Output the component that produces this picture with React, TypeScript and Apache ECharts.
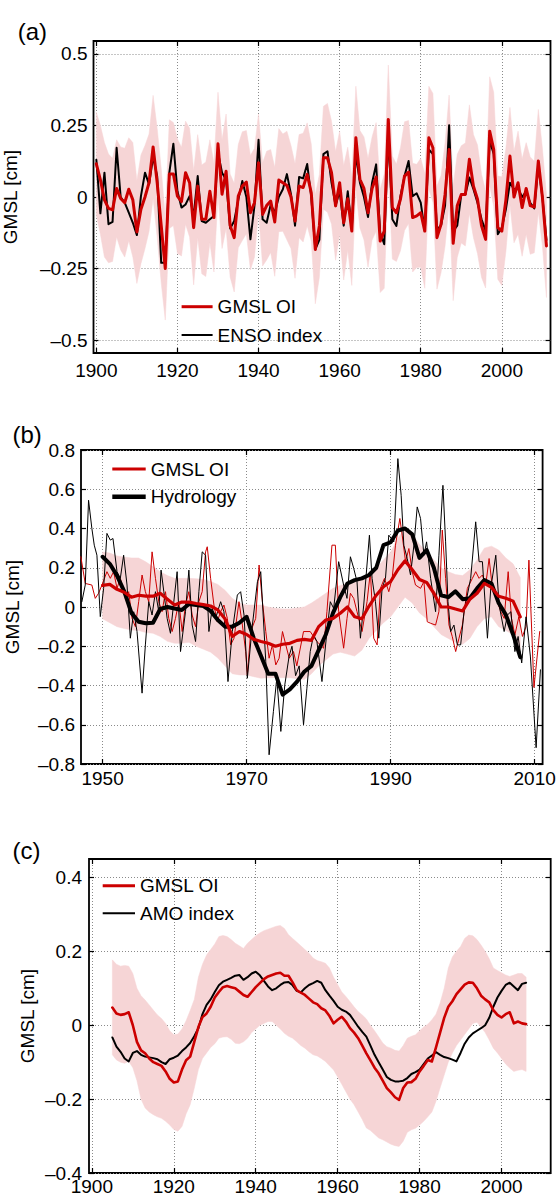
import React, { useEffect, useRef } from 'react';
import * as echarts from 'echarts';

const FONT = "'Liberation Sans', Arial, Helvetica, sans-serif";
const RED = '#cc0000';
const PINK = '#f6d5d6';
const GRID_COLOR = '#8a8a8a';

// ---------------- Panel (a): GMSL OI vs ENSO index (annual) ----------------
const yearsA: number[] = [];
for (let y = 1900; y <= 2011; y++) yearsA.push(y);

const gmslA = [
  0.116, 0.06, -0.01, -0.04, -0.045, 0.03, -0.005, -0.02, 0.027, -0.01,
  -0.122, -0.043, 0.0, 0.05, 0.175, 0.05, -0.1, -0.25, 0.08, 0.08,
  0.003, -0.016, 0.085, 0.05, -0.107, 0.038, -0.078, -0.078, 0.02, -0.072,
  0.186, 0.01, 0.09, -0.1, -0.142, 0.003, 0.038, 0.052, -0.055, -0.02,
  0.12, -0.061, -0.03, -0.014, -0.087, 0.059, 0.05, 0.04, 0.0, -0.084,
  0.038, 0.033, 0.079, 0.015, -0.183, -0.101, 0.137, 0.137, 0.085, -0.031,
  0.05, -0.09, -0.006, -0.119, 0.207, 0.062, 0.03, -0.055, 0.03, 0.07,
  -0.154, -0.119, 0.271, -0.037, -0.055, -0.008, 0.073, 0.087, -0.072, -0.066,
  -0.055, -0.119, 0.207, 0.172, -0.142, -0.095, 0.009, 0.166, -0.162, -0.031,
  0.009, 0.009, 0.132, 0.038, -0.008, -0.101, -0.148, 0.23, 0.166, -0.107,
  -0.119, -0.01, 0.143, 0.0, 0.05, -0.037, 0.03, -0.03, -0.035, 0.126,
  0.0, -0.171,
];

const ensoA = [
  0.13, -0.057, 0.085, -0.095, -0.087, 0.172, 0.0, -0.02, -0.055, -0.09,
  -0.133, 0.003, 0.085, 0.044, 0.14, 0.073, -0.23, -0.23, 0.085, 0.186,
  0.02, -0.037, -0.026, 0.003, -0.066, 0.073, -0.084, -0.09, -0.078, -0.066,
  0.155, 0.085, 0.06, -0.11, -0.084, -0.01, 0.056, 0.0, -0.148, -0.03,
  0.2, -0.078, -0.09, -0.026, -0.055, 0.0, 0.027, 0.08, 0.01, -0.1,
  0.07, 0.065, 0.115, 0.0, -0.183, -0.15, 0.15, 0.16, 0.05, -0.03,
  0.02, -0.1, 0.02, -0.11, 0.15, 0.05, 0.0, -0.07, 0.05, 0.114,
  -0.125, -0.165, 0.22, -0.078, -0.101, 0.003, 0.073, 0.126, 0.003, 0.013,
  -0.02, -0.119, 0.166, 0.15, -0.113, -0.1, -0.03, 0.251, -0.119, -0.1,
  0.009, 0.009, 0.068, 0.027, -0.02, -0.078, -0.119, 0.196, 0.15, -0.13,
  -0.107, -0.043, 0.05, 0.027, 0.03, 0.0, 0.02, -0.02, -0.04, 0.11,
  0.0, -0.15,
];

// half width of the uncertainty band around GMSL OI
const errA = [
  0.18, 0.19, 0.2, 0.19, 0.18, 0.17, 0.18, 0.19, 0.18, 0.2,
  0.18, 0.19, 0.18, 0.17, 0.18, 0.19, 0.2, 0.18, 0.19, 0.18,
  0.2, 0.19, 0.18, 0.19, 0.2, 0.18, 0.19, 0.2, 0.18, 0.19,
  0.18, 0.19, 0.2, 0.18, 0.19, 0.18, 0.19, 0.18, 0.2, 0.19,
  0.17, 0.18, 0.19, 0.18, 0.19, 0.18, 0.17, 0.19, 0.18, 0.2,
  0.18, 0.19, 0.18, 0.17, 0.19, 0.18, 0.18, 0.19, 0.18, 0.19,
  0.18, 0.2, 0.18, 0.19, 0.18, 0.17, 0.18, 0.19, 0.18, 0.19,
  0.18, 0.2, 0.19, 0.18, 0.17, 0.18, 0.19, 0.18, 0.19, 0.18,
  0.19, 0.2, 0.18, 0.19, 0.18, 0.17, 0.18, 0.19, 0.2, 0.18,
  0.17, 0.18, 0.19, 0.18, 0.19, 0.18, 0.17, 0.19, 0.2, 0.18,
  0.19, 0.18, 0.17, 0.16, 0.18, 0.17, 0.16, 0.17, 0.16, 0.18,
  0.17, 0.18,
];

// ---------------- Panel (b): GMSL OI vs Hydrology ----------------
const yearsB: number[] = [];
for (let y = 1950; y <= 2008; y++) yearsB.push(y);

const gmslSmoothB = [
  0.11, 0.115, 0.09, 0.075, 0.05, 0.06, 0.055, 0.055, 0.07, 0.04,
  0.01, 0.025, 0.025, 0.018, 0.012, 0.005, -0.015, -0.06, -0.15, -0.125,
  -0.14, -0.165, -0.176, -0.185, -0.2, -0.19, -0.185, -0.17, -0.165, -0.17,
  -0.1, -0.066, -0.058, -0.032, 0.0, -0.05, -0.06, 0.005, 0.06, 0.103,
  0.13, 0.19, 0.235, 0.19, 0.14, 0.125, 0.07, 0.0, 0.0, -0.01,
  -0.02, 0.04, 0.07, 0.12, 0.1, 0.055, 0.045, 0.03, -0.05,
];

const hydroSmoothB = [
  0.256, 0.22, 0.16, 0.08, -0.03, -0.075, -0.083, -0.08, -0.01, 0.0,
  -0.008, -0.015, 0.015, 0.01, 0.005, -0.02, -0.066, -0.1, -0.1, -0.08,
  -0.05, -0.16, -0.25, -0.34, -0.34, -0.447, -0.42, -0.38, -0.33, -0.3,
  -0.22, -0.14, -0.03, 0.05, 0.12, 0.137, 0.146, 0.163, 0.2, 0.315,
  0.33, 0.39, 0.4, 0.37, 0.25, 0.29, 0.2, 0.06, 0.05, 0.08,
  0.04, 0.045, 0.095, 0.137, 0.12, 0.02, -0.04, -0.14, -0.256,
];

const bandUpperB = [
  0.28, 0.275, 0.26, 0.255, 0.25, 0.25, 0.23, 0.205, 0.18, 0.16,
  0.146, 0.146, 0.146, 0.144, 0.14, 0.13, 0.115, 0.085, 0.044, 0.02,
  0.01, 0.01, 0.01, 0.0, -0.007, -0.01, -0.01, -0.005, 0.0, 0.02,
  0.045, 0.07, 0.095, 0.11, 0.12, 0.135, 0.146, 0.17, 0.197, 0.24,
  0.28, 0.35, 0.4, 0.37, 0.32, 0.28, 0.24, 0.2, 0.18, 0.165,
  0.16, 0.19, 0.24, 0.3, 0.31, 0.29, 0.25, 0.22, 0.15,
];

const bandLowerB = [
  -0.06, -0.08, -0.1, -0.11, -0.117, -0.12, -0.13, -0.134, -0.15, -0.175,
  -0.185, -0.185, -0.18, -0.2, -0.215, -0.23, -0.26, -0.3, -0.34, -0.346,
  -0.346, -0.355, -0.363, -0.36, -0.36, -0.36, -0.36, -0.365, -0.37, -0.34,
  -0.3, -0.27, -0.24, -0.23, -0.24, -0.25, -0.22, -0.16, -0.12, -0.08,
  -0.05, 0.0, 0.05, 0.02, -0.03, -0.06, -0.1, -0.14, -0.16, -0.18,
  -0.19, -0.16, -0.1, -0.06, -0.05, -0.1, -0.12, -0.14, -0.22,
];

// monthly (unsmoothed) series: [decimal year, value]
const gmslMonthlyB = [
  [1946.98, 0.256], [1947.59, 0.12], [1948.51, 0.112], [1948.98, 0.044], [1949.44, 0.07],
  [1949.91, 0.112], [1950.6, 0.18], [1951.07, 0.146], [1951.53, 0.18], [1952.0, 0.095],
  [1952.46, 0.146], [1953.16, 0.044], [1953.62, 0.078], [1954.09, -0.058], [1954.55, -0.1],
  [1955.01, 0.027], [1955.48, 0.163], [1955.94, 0.078], [1956.41, 0.027], [1956.87, 0.281],
  [1957.34, 0.146], [1957.8, 0.027], [1958.26, -0.024], [1958.73, 0.078], [1959.19, -0.058],
  [1959.66, -0.125], [1960.12, -0.058], [1960.58, 0.027], [1961.05, -0.125], [1961.51, 0.01],
  [1961.98, 0.078], [1962.44, -0.041], [1962.91, -0.1], [1963.37, 0.027], [1963.83, 0.078],
  [1964.3, 0.281], [1964.53, 0.307], [1965.0, 0.146], [1965.46, 0.01], [1965.92, -0.075],
  [1966.39, -0.024], [1966.85, 0.01], [1967.32, -0.058], [1967.78, -0.193], [1968.25, -0.159],
  [1968.94, 0.027], [1969.41, -0.092], [1969.87, -0.227], [1970.1, -0.346], [1970.57, -0.125],
  [1971.26, -0.058], [1971.73, 0.214], [1972.19, 0.027], [1972.66, -0.125], [1973.12, -0.261],
  [1973.58, -0.193], [1974.05, -0.295], [1974.51, -0.261], [1974.98, -0.125], [1975.44, -0.193],
  [1975.91, -0.261], [1976.51, -0.227], [1976.97, -0.3], [1977.9, -0.125], [1978.83, -0.125],
  [1979.76, -0.176], [1980.69, -0.21], [1981.15, -0.024], [1981.85, 0.315], [1982.32, 0.315],
  [1982.78, -0.024], [1983.47, -0.21], [1983.94, -0.058], [1984.41, 0.07], [1984.87, 0.044],
  [1985.33, -0.024], [1986.03, -0.125], [1986.72, 0.027], [1987.19, 0.18], [1987.65, -0.159],
  [1988.12, -0.193], [1988.58, 0.095], [1989.14, 0.146], [1989.74, 0.078], [1990.21, 0.146],
  [1990.67, 0.315], [1991.28, 0.451], [1991.6, 0.366], [1992.07, 0.231], [1992.53, 0.298],
  [1993.0, 0.18], [1993.45, 0.112], [1994.15, 0.095], [1994.62, 0.129], [1995.08, -0.075],
  [1995.55, -0.083], [1996.24, -0.092], [1996.7, -0.024], [1997.17, 0.392], [1997.63, 0.146],
  [1998.1, -0.092], [1998.56, -0.151], [1999.03, -0.227], [1999.49, -0.159], [1999.96, -0.092],
  [2000.65, 0.095], [2001.35, 0.146], [2001.81, 0.18], [2002.28, 0.146], [2002.74, 0.163],
  [2003.2, 0.112], [2003.67, 0.247], [2004.13, 0.095], [2004.83, 0.027], [2005.29, -0.024],
  [2005.76, -0.058], [2006.32, 0.18], [2006.78, -0.058], [2007.25, -0.142], [2007.8, -0.05],
  [2008.3, -0.15], [2008.8, -0.1], [2009.2, 0.239], [2009.9, -0.41], [2010.7, -0.125],
];

const hydroMonthlyB = [
  [1947.12, 0.027], [1947.59, 0.112], [1948.05, 0.544], [1948.51, 0.4], [1948.84, 0.315],
  [1949.21, 0.264], [1949.68, -0.049], [1950.14, 0.095], [1950.6, 0.375], [1951.07, 0.341],
  [1951.44, 0.349], [1952.0, 0.18], [1952.46, 0.146], [1952.92, 0.264], [1953.39, 0.112],
  [1953.85, -0.159], [1954.32, -0.024], [1954.78, -0.125], [1955.48, -0.439], [1955.94, -0.193],
  [1956.41, 0.027], [1956.87, -0.041], [1957.34, 0.078], [1957.8, -0.024], [1958.12, 0.188],
  [1958.5, 0.078], [1958.96, -0.058], [1959.42, -0.134], [1959.89, 0.027], [1960.35, 0.18],
  [1960.82, -0.227], [1961.51, -0.024], [1961.98, 0.188], [1962.44, -0.092], [1962.91, -0.176],
  [1963.37, 0.078], [1963.83, 0.281], [1964.3, 0.264], [1964.76, -0.125], [1965.23, -0.007],
  [1965.69, -0.058], [1966.39, 0.027], [1966.85, -0.024], [1967.41, -0.38], [1968.01, -0.125],
  [1968.71, 0.061], [1969.17, 0.078], [1969.64, -0.041], [1970.1, -0.363], [1970.8, -0.092],
  [1971.5, 0.129], [1971.96, 0.18], [1972.66, -0.278], [1973.12, -0.753], [1973.72, -0.532],
  [1974.19, -0.363], [1974.75, -0.634], [1975.3, -0.397], [1975.9, -0.25], [1976.3, -0.2],
  [1976.8, -0.35], [1977.3, -0.3], [1977.9, -0.6], [1978.37, -0.414], [1978.83, -0.227],
  [1979.3, -0.142], [1979.76, -0.176], [1980.46, -0.38], [1981.15, -0.125], [1981.62, 0.027],
  [1982.09, -0.007], [1982.78, 0.231], [1983.47, 0.112], [1983.94, 0.044], [1984.41, 0.256],
  [1984.87, 0.197], [1985.33, 0.129], [1985.8, -0.159], [1986.26, 0.01], [1987.05, 0.366],
  [1987.42, 0.146], [1987.89, 0.027], [1988.35, -0.159], [1988.81, 0.095], [1989.28, 0.146],
  [1989.74, 0.366], [1990.44, 0.332], [1991.0, 0.756], [1991.46, 0.569], [1991.83, 0.315],
  [1992.3, 0.247], [1992.76, 0.163], [1993.23, 0.315], [1993.69, 0.51], [1994.15, 0.451],
  [1994.62, 0.264], [1994.99, 0.332], [1995.55, 0.146], [1996.24, -0.024], [1996.7, 0.264],
  [1997.26, 0.62], [1997.63, 0.332], [1997.96, 0.027], [1998.33, -0.125], [1998.79, -0.092],
  [1999.26, -0.193], [1999.72, -0.193], [2000.19, -0.024], [2000.65, 0.061], [2001.11, 0.146],
  [2001.81, 0.434], [2002.28, 0.231], [2002.74, 0.231], [2003.44, -0.159], [2003.9, 0.095],
  [2004.6, 0.264], [2005.06, 0.01], [2005.76, -0.125], [2006.22, -0.041], [2006.69, -0.024],
  [2007.25, -0.227], [2007.7, -0.15], [2008.2, -0.285], [2008.8, -0.05], [2009.4, -0.25],
  [2010.2, -0.717], [2010.8, -0.32],
];

// ---------------- Panel (c): GMSL OI vs AMO index ----------------
const yearsC: number[] = [];
for (let y = 1905; y <= 2006; y++) yearsC.push(y);

const gmslC = [
  0.048, 0.032, 0.028, 0.03, 0.035, 0.0, -0.045, -0.068, -0.076, -0.09,
  -0.1, -0.105, -0.11, -0.125, -0.145, -0.155, -0.152, -0.12, -0.095, -0.085,
  -0.045, -0.005, 0.022, 0.032, 0.05, 0.075, 0.09, 0.103, 0.106, 0.103,
  0.1, 0.091, 0.082, 0.077, 0.09, 0.103, 0.114, 0.125, 0.132, 0.136,
  0.14, 0.142, 0.134, 0.134, 0.116, 0.095, 0.088, 0.082, 0.072, 0.062,
  0.057, 0.046, 0.04, 0.025, 0.005, 0.015, 0.023, 0.01, -0.008, -0.02,
  -0.035, -0.055, -0.076, -0.095, -0.115, -0.13, -0.15, -0.17, -0.182, -0.195,
  -0.202, -0.17, -0.155, -0.154, -0.145, -0.125, -0.11, -0.094, -0.098, -0.06,
  -0.02, 0.02, 0.05, 0.065, 0.084, 0.097, 0.11, 0.116, 0.115, 0.1,
  0.08, 0.07, 0.062, 0.041, 0.028, 0.021, 0.03, 0.035, 0.005, 0.01,
  0.005, 0.003,
];

const amoC = [
  -0.033, -0.058, -0.072, -0.09, -0.098, -0.075, -0.07, -0.08, -0.085, -0.087,
  -0.089, -0.092, -0.1, -0.105, -0.092, -0.088, -0.082, -0.07, -0.06, -0.048,
  -0.03, -0.008, 0.03, 0.055, 0.07, 0.09, 0.108, 0.118, 0.123, 0.128,
  0.134, 0.136, 0.123, 0.13, 0.14, 0.145, 0.135, 0.12, 0.105, 0.095,
  0.1, 0.109, 0.116, 0.117, 0.108, 0.093, 0.089, 0.1, 0.109, 0.114,
  0.12, 0.115, 0.095, 0.08, 0.066, 0.05, 0.042, 0.037, 0.028, 0.012,
  -0.004, -0.018, -0.031, -0.055, -0.08, -0.1, -0.12, -0.14, -0.148, -0.152,
  -0.152, -0.15, -0.143, -0.132, -0.127, -0.12, -0.105, -0.09, -0.082, -0.073,
  -0.08, -0.086, -0.089, -0.093, -0.098, -0.075, -0.05, -0.033, -0.022, -0.015,
  -0.008, 0.0, 0.02, 0.05, 0.075, 0.093, 0.109, 0.115, 0.105, 0.095,
  0.112, 0.115,
];

const bandUpperC = [
  0.177, 0.165, 0.16, 0.162, 0.16, 0.14, 0.1, 0.08, 0.068, 0.055,
  0.041, 0.028, 0.018, 0.005, -0.015, -0.026, -0.024, -0.01, 0.012, 0.04,
  0.07, 0.13, 0.165, 0.19, 0.205, 0.22, 0.24, 0.243, 0.24, 0.232,
  0.222, 0.215, 0.208, 0.222, 0.232, 0.242, 0.25, 0.256, 0.26, 0.264,
  0.268, 0.27, 0.262, 0.245, 0.235, 0.225, 0.215, 0.205, 0.195, 0.182,
  0.175, 0.172, 0.168, 0.155, 0.13, 0.11, 0.09, 0.078, 0.064, 0.05,
  0.037, 0.028, 0.017, 0.0, -0.015, -0.031, -0.048, -0.058, -0.062, -0.068,
  -0.07, -0.055, -0.035, -0.03, -0.026, -0.015, -0.005, 0.003, 0.015, 0.03,
  0.06, 0.1, 0.155, 0.185, 0.2, 0.213, 0.235, 0.244, 0.242, 0.232,
  0.217, 0.2, 0.18, 0.155, 0.148, 0.142, 0.136, 0.132, 0.136, 0.14,
  0.14, 0.13,
];

const bandLowerC = [
  -0.08, -0.094, -0.1, -0.103, -0.098, -0.115, -0.15, -0.2, -0.224, -0.235,
  -0.242, -0.248, -0.252, -0.26, -0.27, -0.282, -0.287, -0.274, -0.24, -0.215,
  -0.17, -0.12, -0.09, -0.075, -0.06, -0.05, -0.035, -0.032, -0.031, -0.038,
  -0.049, -0.05, -0.045, -0.035, -0.02, -0.01, 0.0, 0.005, 0.01, 0.01,
  0.0, -0.01, -0.022, -0.03, -0.035, -0.045, -0.055, -0.062, -0.072, -0.08,
  -0.083, -0.09, -0.098, -0.11, -0.121, -0.14, -0.16, -0.18, -0.2, -0.215,
  -0.235, -0.255, -0.278, -0.285, -0.295, -0.305, -0.31, -0.316, -0.322, -0.326,
  -0.328, -0.314, -0.29, -0.283, -0.279, -0.27, -0.26, -0.248, -0.235, -0.206,
  -0.17, -0.135, -0.1, -0.075, -0.055, -0.04, -0.025, -0.01, 0.005, 0.008,
  -0.005, -0.02, -0.04, -0.062, -0.075, -0.09, -0.105, -0.116, -0.125, -0.122,
  -0.12, -0.125,
];

// ---------------- Ticks ----------------
const xTicksA = [1900, 1920, 1940, 1960, 1980, 2000];
const yTicksA = [-0.5, -0.25, 0, 0.25, 0.5];
const xTicksB = [1950, 1970, 1990, 2010];
const yTicksB = [-0.8, -0.6, -0.4, -0.2, 0, 0.2, 0.4, 0.6, 0.8];
const xTicksC = [1900, 1920, 1940, 1960, 1980, 2000];
const yTicksC = [-0.4, -0.2, 0, 0.2, 0.4];

const fmtY = (v: number) => {
  const r = parseFloat(v.toFixed(3));
  if (r === 0) return '0';
  return (r < 0 ? '\u2013' : '') + String(Math.abs(r));
};

const tickStyle = (ticks: number[]) => ({
  show: true,
  inside: true,
  length: 5,
  customValues: ticks,
  lineStyle: { color: '#000', width: 1.2 },
});

const splitStyle = { show: true, lineStyle: { color: GRID_COLOR, width: 1, type: [1, 2] } };

function makeX(gridIndex: number, min: number, max: number, ticks: number[], margin: number) {
  return [
    {
      type: 'value', gridIndex, min, max, position: 'bottom',
      axisLine: { show: false, onZero: false },
      axisTick: tickStyle(ticks),
      axisLabel: {
        show: true, customValues: ticks, margin, color: '#000', fontSize: 19, fontFamily: FONT,
        formatter: (v: number) => String(Math.round(v)),
      },
      splitLine: splitStyle,
    },
    {
      type: 'value', gridIndex, min, max, position: 'top',
      axisLine: { show: false, onZero: false },
      axisTick: tickStyle(ticks),
      axisLabel: { show: false },
      splitLine: { show: false },
    },
  ];
}

function makeY(gridIndex: number, min: number, max: number, ticks: number[], margin: number) {
  return [
    {
      type: 'value', gridIndex, min, max, position: 'left',
      axisLine: { show: false, onZero: false },
      axisTick: tickStyle(ticks),
      axisLabel: {
        show: true, customValues: ticks, margin, color: '#000', fontSize: 19, fontFamily: FONT,
        formatter: fmtY,
      },
      splitLine: splitStyle,
    },
    {
      type: 'value', gridIndex, min, max, position: 'right',
      axisLine: { show: false, onZero: false },
      axisTick: tickStyle(ticks),
      axisLabel: { show: false },
      splitLine: { show: false },
    },
  ];
}

// Uncertainty band drawn as one polygon, every vertex placed through the axes (api.coord)
function bandSeries(xi: number, xs: number[], lower: number[], upper: number[]) {
  const data = xs.map((x, i) => [x, lower[i], upper[i]]);
  return {
    type: 'custom', xAxisIndex: xi, yAxisIndex: xi, silent: true, z: 1, clip: true,
    data,
    encode: { x: 0, y: [1, 2] },
    renderItem: (params: any, api: any) => {
      if (params.dataIndex !== 0) return null;
      const top = data.map((d) => api.coord([d[0], d[2]]));
      const bot = data.map((d) => api.coord([d[0], d[1]])).reverse();
      return {
        type: 'polygon',
        shape: { points: top.concat(bot) },
        style: { fill: PINK, stroke: PINK, lineWidth: 0.5 },
        silent: true,
      };
    },
  };
}

function lineSeries(name: string, xi: number, data: number[][], color: string, width: number, z: number) {
  return {
    type: 'line', name, xAxisIndex: xi, yAxisIndex: xi, data,
    symbol: 'none', silent: true, z,
    lineStyle: { color, width, join: 'round', cap: 'round' },
  };
}

const zip = (xs: number[], ys: number[]) => xs.map((x, i) => [x, ys[i]]);

function txt(x: number, y: number, text: string, size: number, opts: any = {}) {
  return {
    type: 'text', x, y, rotation: opts.rotation || 0, silent: true, z: 100,
    style: {
      text, fill: '#000', fontSize: size, fontFamily: FONT,
      align: opts.align || 'left', textAlign: opts.align || 'left',
      verticalAlign: 'middle', textVerticalAlign: 'middle',
    },
  };
}

function legLine(x1: number, x2: number, y: number, color: string, width: number) {
  return {
    type: 'line', silent: true, z: 100,
    shape: { x1, y1: y, x2, y2: y },
    style: { stroke: color, lineWidth: width },
  };
}

export default function App() {
  const ref = useRef<HTMLDivElement>(null);

  useEffect(() => {
    document.body.style.margin = '0';
    document.body.style.overflow = 'hidden';
    if (!ref.current) return;
    const chart = echarts.init(ref.current, null, { renderer: 'svg' });

    const lowA = yearsA.map((_, i) => parseFloat((gmslA[i] - errA[i]).toFixed(4)));
    const upA = yearsA.map((_, i) => parseFloat((gmslA[i] + errA[i]).toFixed(4)));

    const gridBase = {
      show: true, borderColor: '#000', borderWidth: 1.8, backgroundColor: 'transparent',
      outerBoundsMode: 'none', containLabel: false,
    };

    const option: any = {
      animation: false,
      backgroundColor: '#fff',
      grid: [
        { ...gridBase, left: 93.5, top: 41, width: 457, height: 312 },
        { ...gridBase, left: 81, top: 450, width: 461.6, height: 314 },
        { ...gridBase, left: 89, top: 859, width: 461.7, height: 314 },
      ],
      xAxis: [
        ...makeX(0, 1899.3, 2012, xTicksA, 8),
        ...makeX(1, 1947, 2011.1, xTicksB, 5),
        ...makeX(2, 1899.3, 2012, xTicksC, 4),
      ],
      yAxis: [
        ...makeY(0, -0.545, 0.545, yTicksA, 6),
        ...makeY(1, -0.8, 0.8, yTicksB, 6),
        ...makeY(2, -0.4, 0.45, yTicksC, 7),
      ],
      series: [
        // (a)
        bandSeries(0, yearsA, lowA, upA),
        lineSeries('ENSO index', 0, zip(yearsA, ensoA), '#000', 2, 3),
        lineSeries('GMSL OI (a)', 0, zip(yearsA, gmslA), RED, 3, 4),
        // (b)
        bandSeries(2, yearsB, bandLowerB, bandUpperB),
        lineSeries('GMSL OI monthly', 2, gmslMonthlyB, RED, 1, 3),
        lineSeries('Hydrology monthly', 2, hydroMonthlyB, '#000', 1, 3),
        lineSeries('Hydrology', 2, zip(yearsB, hydroSmoothB), '#000', 4, 4),
        lineSeries('GMSL OI (b)', 2, zip(yearsB, gmslSmoothB), RED, 3.2, 5),
        // (c)
        bandSeries(4, yearsC, bandLowerC, bandUpperC),
        lineSeries('AMO index', 4, zip(yearsC, amoC), '#000', 2, 3),
        lineSeries('GMSL OI (c)', 4, zip(yearsC, gmslC), RED, 2.6, 4),
      ],
      graphic: [
        // panel labels
        txt(17.7, 31, '(a)', 24),
        txt(12.4, 434, '(b)', 24),
        txt(12.4, 850, '(c)', 24),
        // y-axis titles
        txt(10.6, 197, 'GMSL [cm]', 19, { rotation: Math.PI / 2, align: 'center' }),
        txt(12.4, 607, 'GMSL [cm]', 19, { rotation: Math.PI / 2, align: 'center' }),
        txt(27.5, 1016, 'GMSL [cm]', 19, { rotation: Math.PI / 2, align: 'center' }),
        // legend (a)
        legLine(181.6, 212.6, 306.7, RED, 3),
        txt(217.6, 306.7, 'GMSL OI', 19),
        legLine(181.6, 212.6, 335, '#000', 2),
        txt(217.6, 335, 'ENSO index', 19),
        // legend (b)
        legLine(112.3, 145.7, 469, RED, 3),
        txt(150.7, 469, 'GMSL OI', 19),
        legLine(112.3, 145.7, 496.7, '#000', 4.5),
        txt(150.7, 496.7, 'Hydrology', 19),
        // legend (c)
        legLine(102.7, 135, 885.7, RED, 3),
        txt(140, 885.7, 'GMSL OI', 19),
        legLine(102.7, 135, 913.3, '#000', 2),
        txt(140, 913.3, 'AMO index', 19),
      ],
    };

    chart.setOption(option);
    return () => chart.dispose();
  }, []);

  return <div ref={ref} style={{ width: 556, height: 1195 }} />;
}
